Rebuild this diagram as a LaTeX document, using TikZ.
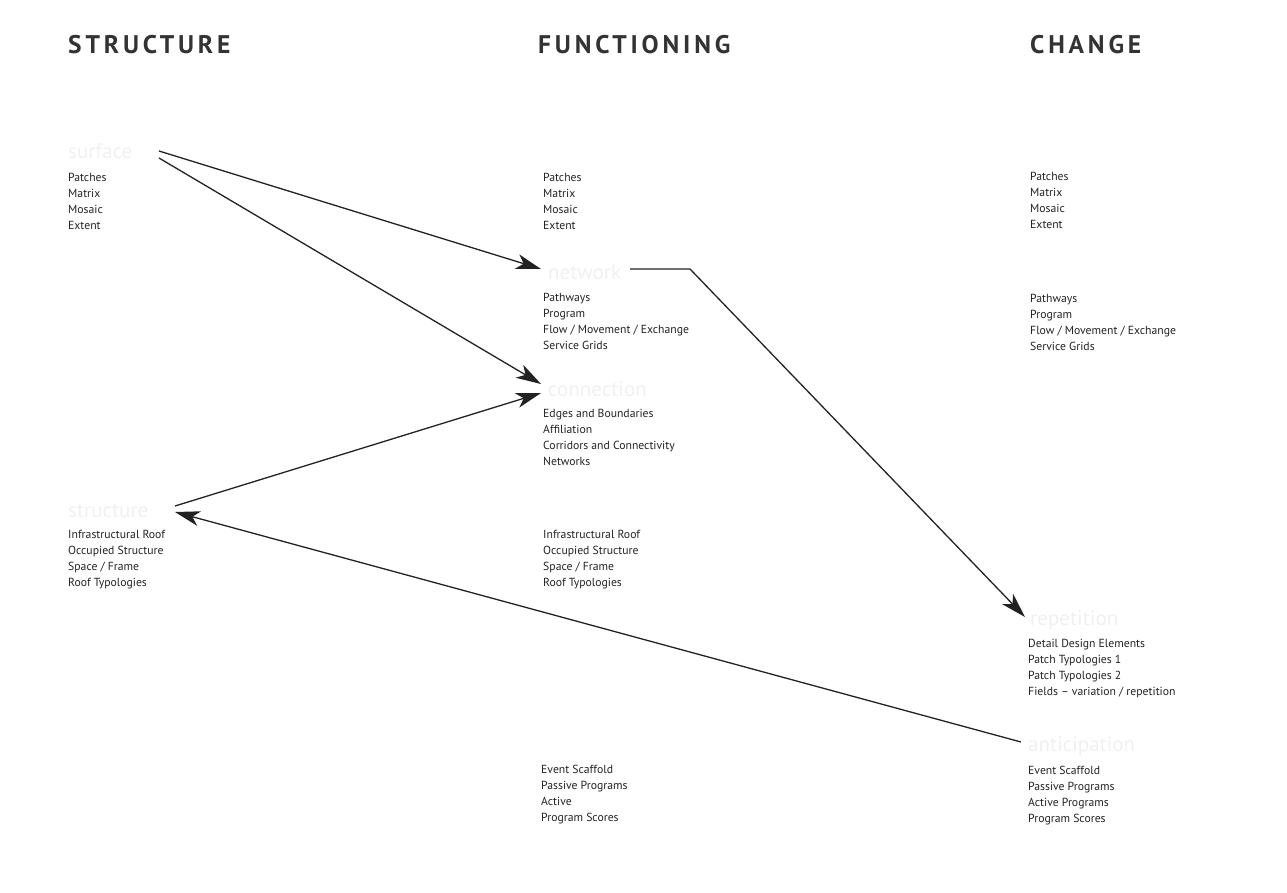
\documentclass[tikz,border=0pt]{standalone}
\usepackage{fontspec}
\setmainfont{PT Sans}
\newfontfamily\headfont[LetterSpace=15]{PT Sans}
\usetikzlibrary{arrows.meta}
\definecolor{ink}{HTML}{222222}
\definecolor{headink}{HTML}{333333}
\definecolor{ghost}{HTML}{F0F0F0}
\tikzset{
  colhead/.style={anchor=base west, inner sep=0pt, text=headink, font=\headfont\fontsize{25.5}{25.5}\selectfont\bfseries},
  itemlist/.style={anchor=north west, inner sep=0pt, text=ink, align=left, font=\fontsize{11.7}{16}\selectfont},
  ghosthead/.style={anchor=base west, inner sep=0pt, text=ghost, font=\fontsize{21}{21}\selectfont},
  link/.style={draw=ink, line width=1.3pt, -{Stealth[length=25pt,width=15pt,inset=7pt]}}
}
\begin{document}
\begin{tikzpicture}[x=1pt,y=-1pt]
\useasboundingbox (0,0) rectangle (1287,892);
% column headings
\node[colhead] (hS) at (68,53) {STRUCTURE};
\node[colhead] (hF) at (538,53) {FUNCTIONING};
\node[colhead] (hC) at (1030,53) {CHANGE};
% faint sub headings
\node[ghosthead] (gSurf) at (68,158) {surface};
\node[ghosthead] (gNet) at (548,279) {network};
\node[ghosthead] (gCon) at (548,396) {connection};
\node[ghosthead] (gStr) at (68,517) {structure};
\node[ghosthead] (gRep) at (1030,625) {repetition};
\node[ghosthead] (gAnt) at (1028,751) {anticipation};
% lists
\node[itemlist] (L1) at (68,173) {Patches\\Matrix\\Mosaic\\Extent};
\node[itemlist] (M1) at (543,173) {Patches\\Matrix\\Mosaic\\Extent};
\node[itemlist] (R1) at (1030,172) {Patches\\Matrix\\Mosaic\\Extent};
\node[itemlist] (M2) at (543,293) {Pathways\\Program\\Flow / Movement / Exchange\\Service Grids};
\node[itemlist] (R2) at (1030,294) {Pathways\\Program\\Flow / Movement / Exchange\\Service Grids};
\node[itemlist] (M3) at (543,409) {Edges and Boundaries\\Affiliation\\Corridors and Connectivity\\Networks};
\node[itemlist] (L4) at (68,530) {Infrastructural Roof\\Occupied Structure\\Space / Frame\\Roof Typologies};
\node[itemlist] (M4) at (543,530) {Infrastructural Roof\\Occupied Structure\\Space / Frame\\Roof Typologies};
\node[itemlist] (R5) at (1028,639) {Detail Design Elements\\Patch Typologies 1\\Patch Typologies 2\\Fields -- variation / repetition};
\node[itemlist] (M6) at (541,765) {Event Scaffold\\Passive Programs\\Active\\Program Scores};
\node[itemlist] (R6) at (1028,766) {Event Scaffold\\Passive Programs\\Active Programs\\Program Scores};
% connector end points
\coordinate (surfA) at (159,151);
\coordinate (surfB) at (159,158);
\coordinate (netIn) at (541,269);
\coordinate (conIn) at (541,384);
\coordinate (conIn2) at (541,393);
\coordinate (strOut) at (175,506);
\coordinate (strIn) at (175,512);
\coordinate (antOut) at (1021,742);
\coordinate (netOut) at (630,269);
\coordinate (bend) at (690,269);
\coordinate (repIn) at (1025,617);
% connectors
\draw[link] (surfA) -- (netIn);
\draw[link] (surfB) -- (conIn);
\draw[link] (strOut) -- (conIn2);
\draw[link] (antOut) -- (strIn);
\draw[link] (netOut) -- (bend) -- (repIn);
\end{tikzpicture}
\end{document}
